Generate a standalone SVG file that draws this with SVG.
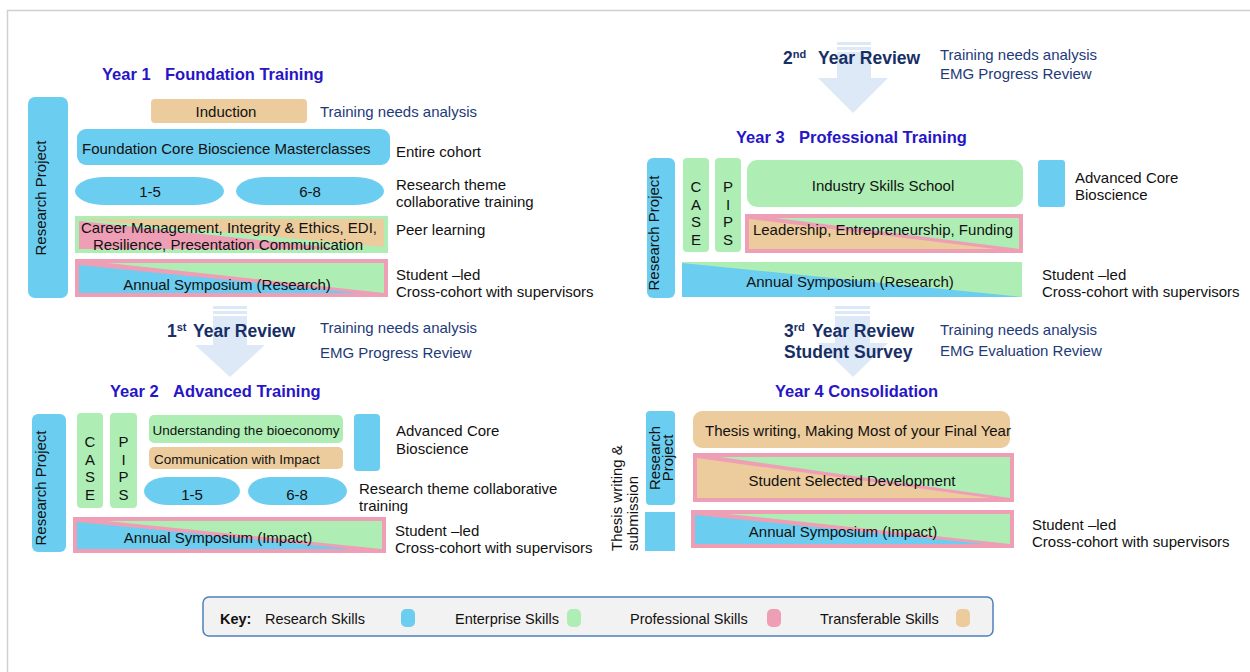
<svg xmlns="http://www.w3.org/2000/svg" width="1250" height="672" viewBox="0 0 1250 672">
<style>
text{font-family:"Liberation Sans",Arial,sans-serif;}
.t{font-size:15px;fill:#111;}
.s{font-size:13.5px;fill:#111;}
.k{font-size:14.5px;fill:#111;}
.c{text-anchor:middle;}
.nv{font-size:15px;fill:#1e3a78;}
.title{font-size:16.5px;font-weight:bold;fill:#2715c6;}
.rev{font-size:17.5px;font-weight:bold;fill:#172f66;}
.sup{font-size:11px;}
.b{fill:#6bcdef;}
.g{fill:#aeeeb5;}
.p{fill:#ee9fb5;}
.n{fill:#eccb9c;}
.arr{fill:#dde9f6;}
</style>
<rect x="7.5" y="10.5" width="1300" height="700" fill="#fff" stroke="#d0d0d0" stroke-width="1.5"/>

<g id="connectors">
  <g id="review1-arrow">
    <rect class="arr" x="213" y="306" width="34" height="3"/>
    <rect class="arr" x="213" y="311" width="34" height="3"/>
    <rect class="arr" x="213" y="316" width="34" height="30"/>
    <polygon class="arr" points="195,345 265,345 230,377"/>
  </g>
  <g id="review2-arrow">
    <rect class="arr" x="837" y="42" width="34" height="3"/>
    <rect class="arr" x="837" y="47" width="34" height="3"/>
    <rect class="arr" x="837" y="52" width="34" height="27"/>
    <polygon class="arr" points="818,78 888,78 853,113"/>
  </g>
  <g id="review3-arrow">
    <rect class="arr" x="835" y="306" width="35" height="3"/>
    <rect class="arr" x="835" y="311" width="35" height="3"/>
    <rect class="arr" x="835" y="316" width="35" height="28"/>
    <polygon class="arr" points="818,343 888,343 853,377"/>
  </g>
</g>

<!-- YEAR 1 -->
<g id="year1-title">
  <text class="title" x="102" y="80">Year 1</text>
  <text class="title" x="165" y="80">Foundation Training</text>
</g>
<g id="y1-research-project">
  <rect class="b" x="28" y="97" width="40" height="201" rx="7"/>
  <text class="t c" transform="translate(46,198) rotate(-90)">Research Project</text>
</g>
<g id="y1-induction">
  <rect class="n" x="151" y="99" width="156" height="24" rx="4"/>
  <text class="t c" x="226" y="117">Induction</text>
  <text class="nv" x="320" y="117">Training needs analysis</text>
</g>
<g id="y1-masterclasses">
  <rect class="b" x="77" y="129" width="313" height="36" rx="9"/>
  <text class="t" x="82" y="154">Foundation Core Bioscience Masterclasses</text>
  <text class="t" x="396" y="157">Entire cohort</text>
</g>
<g id="y1-theme">
  <rect class="b" x="75" y="177" width="149" height="28" rx="30" ry="14"/>
  <text class="t c" x="150" y="197">1-5</text>
  <rect class="b" x="236" y="177" width="148" height="28" rx="30" ry="14"/>
  <text class="t c" x="310" y="197">6-8</text>
  <text class="t" x="396" y="190">Research theme</text>
  <text class="t" x="396" y="207">collaborative training</text>
</g>
<g id="y1-career">
  <rect class="g" x="75" y="216" width="313" height="37"/>
  <polygon class="p" points="79,221 79,249 345,249"/>
  <polygon class="n" points="79,219 384,219 384,247"/>
  <text class="t c" x="229" y="233">Career Management, Integrity &amp; Ethics, EDI,</text>
  <text class="t c" x="228" y="250">Resilience, Presentation Communication</text>
  <text class="t" x="396" y="235">Peer learning</text>
</g>
<g id="y1-symposium">
  <rect class="p" x="75" y="259" width="313" height="38"/>
  <polygon class="b" points="79,265 79,293 358,293"/>
  <polygon class="g" points="108,263 384,263 384,293"/>
  <text class="t c" x="227" y="290">Annual Symposium (Research)</text>
  <text class="t" x="396" y="280">Student –led</text>
  <text class="t" x="396" y="297">Cross-cohort with supervisors</text>
</g>

<!-- 1st review -->
<g id="review1">
  <text class="rev" x="167" y="337">1<tspan class="sup" dy="-6">st</tspan><tspan x="193" dy="6">Year Review</tspan></text>
  <text class="nv" x="320" y="333">Training needs analysis</text>
  <text class="nv" x="320" y="358">EMG Progress Review</text>
</g>

<!-- YEAR 2 -->
<g id="year2-title">
  <text class="title" x="110" y="397">Year 2</text>
  <text class="title" x="173" y="397">Advanced Training</text>
</g>
<g id="y2-research-project">
  <rect class="b" x="32" y="414" width="34" height="138" rx="6"/>
  <text class="t c" transform="translate(46,488) rotate(-90)">Research Project</text>
</g>
<g id="y2-case">
  <rect class="g" x="77" y="413" width="26" height="95" rx="4"/>
  <text class="t c" x="90" y="447">C<tspan x="90" dy="17.5">A</tspan><tspan x="90" dy="17.5">S</tspan><tspan x="90" dy="17.5">E</tspan></text>
</g>
<g id="y2-pips">
  <rect class="g" x="110" y="413" width="27" height="95" rx="4"/>
  <text class="t c" x="123.5" y="447">P<tspan x="123.5" dy="17.5">I</tspan><tspan x="123.5" dy="17.5">P</tspan><tspan x="123.5" dy="17.5">S</tspan></text>
</g>
<g id="y2-bioeconomy">
  <rect class="g" x="149" y="415" width="194" height="28" rx="5"/>
  <text class="s c" x="246" y="435">Understanding the bioeconomy</text>
</g>
<g id="y2-communication">
  <rect class="n" x="149" y="447" width="194" height="22" rx="5"/>
  <text class="s" x="154" y="464">Communication with Impact</text>
</g>
<g id="y2-advanced-core">
  <rect class="b" x="354" y="414" width="26" height="57" rx="4"/>
  <text class="t" x="396" y="436">Advanced Core</text>
  <text class="t" x="396" y="454">Bioscience</text>
</g>
<g id="y2-theme">
  <rect class="b" x="144" y="477" width="96" height="28" rx="24" ry="14"/>
  <text class="t c" x="192" y="500">1-5</text>
  <rect class="b" x="248" y="477" width="99" height="28" rx="24" ry="14"/>
  <text class="t c" x="297" y="500">6-8</text>
  <text class="t" x="359" y="494">Research theme collaborative</text>
  <text class="t" x="359" y="511">training</text>
</g>
<g id="y2-symposium">
  <rect class="p" x="73" y="517" width="313" height="36"/>
  <polygon class="b" points="77,522 77,549 352,549"/>
  <polygon class="g" points="107,521 382,521 382,549"/>
  <text class="t c" x="218" y="543">Annual Symposium (Impact)</text>
  <text class="t" x="395" y="536">Student –led</text>
  <text class="t" x="395" y="553">Cross-cohort with supervisors</text>
</g>

<!-- 2nd review -->
<g id="review2">
  <text class="rev" x="783" y="64">2<tspan class="sup" dy="-6">nd</tspan><tspan x="818" dy="6">Year Review</tspan></text>
  <text class="nv" x="940" y="60">Training needs analysis</text>
  <text class="nv" x="940" y="79">EMG Progress Review</text>
</g>

<!-- YEAR 3 -->
<g id="year3-title">
  <text class="title" x="736" y="143">Year 3</text>
  <text class="title" x="799" y="143">Professional Training</text>
</g>
<g id="y3-research-project">
  <rect class="b" x="647" y="158" width="28" height="140" rx="6"/>
  <text class="t c" transform="translate(659,233) rotate(-90)">Research Project</text>
</g>
<g id="y3-case">
  <rect class="g" x="683" y="158" width="26" height="94" rx="4"/>
  <text class="t c" x="696" y="192">C<tspan x="696" dy="17.7">A</tspan><tspan x="696" dy="17.7">S</tspan><tspan x="696" dy="17.7">E</tspan></text>
</g>
<g id="y3-pips">
  <rect class="g" x="715" y="158" width="26" height="94" rx="4"/>
  <text class="t c" x="728" y="192">P<tspan x="728" dy="17.7">I</tspan><tspan x="728" dy="17.7">P</tspan><tspan x="728" dy="17.7">S</tspan></text>
</g>
<g id="y3-industry">
  <rect class="g" x="747" y="160" width="276" height="47" rx="10"/>
  <text class="t c" x="883" y="191">Industry Skills School</text>
</g>
<g id="y3-advanced-core">
  <rect class="b" x="1038" y="160" width="27" height="47" rx="3"/>
  <text class="t" x="1075" y="183">Advanced Core</text>
  <text class="t" x="1075" y="200">Bioscience</text>
</g>
<g id="y3-leadership">
  <rect class="p" x="745" y="214" width="278" height="39"/>
  <polygon class="n" points="749,219 749,249 995,249"/>
  <polygon class="g" points="776,218 1019,218 1019,249"/>
  <text class="t c" x="883" y="235">Leadership, Entrepreneurship, Funding</text>
</g>
<g id="y3-symposium">
  <rect class="g" x="682" y="262" width="340" height="35"/>
  <polygon class="b" points="682,263 682,297 1022,297"/>
  <text class="t c" x="850" y="287">Annual Symposium (Research)</text>
  <text class="t" x="1042" y="280">Student –led</text>
  <text class="t" x="1042" y="297">Cross-cohort with supervisors</text>
</g>

<!-- 3rd review -->
<g id="review3">
  <text class="rev" x="784" y="337">3<tspan class="sup" dy="-6">rd</tspan><tspan x="812" dy="6">Year Review</tspan></text>
  <text class="rev" x="784" y="358">Student Survey</text>
  <text class="nv" x="940" y="335">Training needs analysis</text>
  <text class="nv" x="940" y="356">EMG Evaluation Review</text>
</g>

<!-- YEAR 4 -->
<g id="year4-title">
  <text class="title" x="775" y="397">Year 4 Consolidation</text>
</g>
<g id="y4-thesis-label">
  <text class="t" transform="translate(622,551) rotate(-90)">Thesis writing &amp;</text>
  <text class="t" transform="translate(638,551) rotate(-90)">submission</text>
</g>
<g id="y4-research-project">
  <rect class="b" x="646" y="411" width="29" height="94" rx="4"/>
  <text class="t c" transform="translate(660,458) rotate(-90)">Research</text>
  <text class="t c" transform="translate(673,458) rotate(-90)">Project</text>
</g>
<g id="y4-submission-bar">
  <rect class="b" x="645" y="512" width="30" height="39"/>
</g>
<g id="y4-thesis-writing">
  <rect class="n" x="693" y="411" width="317" height="37" rx="9"/>
  <text class="t" x="705" y="436">Thesis writing, Making Most of your Final Year</text>
</g>
<g id="y4-student-selected">
  <rect class="p" x="693" y="453" width="321" height="49"/>
  <polygon class="n" points="697,458 697,498 990,498"/>
  <polygon class="g" points="720,457 1010,457 1010,498"/>
  <text class="t c" x="852" y="486">Student Selected Development</text>
</g>
<g id="y4-symposium">
  <rect class="p" x="691" y="510" width="323" height="38"/>
  <polygon class="b" points="695,515 695,544 985,544"/>
  <polygon class="g" points="728,514 1010,514 1010,544"/>
  <text class="t c" x="843" y="537">Annual Symposium (Impact)</text>
  <text class="t" x="1032" y="530">Student –led</text>
  <text class="t" x="1032" y="547">Cross-cohort with supervisors</text>
</g>

<!-- KEY -->
<g id="key">
  <rect x="203" y="597" width="790" height="39" rx="6" fill="#f2f2f2" stroke="#4f7fbf" stroke-width="1.5"/>
  <text class="k" x="220" y="624" font-weight="bold">Key:</text>
  <text class="k" x="265" y="624">Research Skills</text>
  <rect class="b" x="401" y="609" width="14" height="18" rx="5"/>
  <text class="k" x="455" y="624">Enterprise Skills</text>
  <rect class="g" x="567" y="609" width="14" height="18" rx="5"/>
  <text class="k" x="630" y="624">Professional Skills</text>
  <rect class="p" x="767" y="609" width="14" height="18" rx="5"/>
  <text class="k" x="820" y="624">Transferable Skills</text>
  <rect class="n" x="956" y="609" width="14" height="18" rx="5"/>
</g>
</svg>
